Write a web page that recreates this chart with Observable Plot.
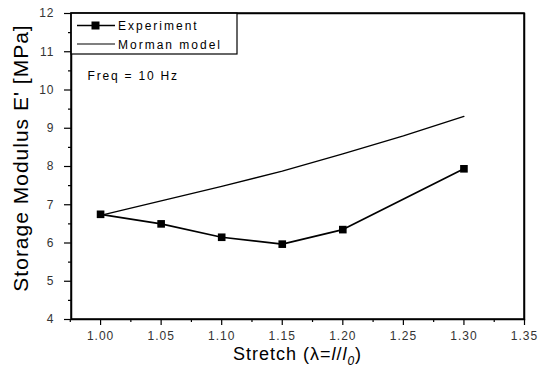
<!DOCTYPE html>
<html>
<head>
<meta charset="utf-8">
<script src="https://cdn.jsdelivr.net/npm/d3@7"></script>
<script src="https://cdn.jsdelivr.net/npm/@observablehq/plot@0.6"></script>
<style>
  html, body { margin: 0; padding: 0; background: #fff; }
  #chart svg { display: block; }
</style>
</head>
<body>
<div id="chart"></div>
<script>
// ---- data ----
const stretch = [1.00, 1.05, 1.10, 1.15, 1.20, 1.30];
const experiment = [6.75, 6.50, 6.15, 5.97, 6.35, 7.94];
const modelStretch = [1.00, 1.05, 1.10, 1.15, 1.20, 1.25, 1.30];
const modelValues = [6.72, 7.10, 7.48, 7.88, 8.33, 8.80, 9.31];
const xMajorTicks = [1.00, 1.05, 1.10, 1.15, 1.20, 1.25, 1.30, 1.35];
const xMinorTicks = [0.975, 1.025, 1.075, 1.125, 1.175, 1.225, 1.275, 1.325];
const yMajorTicks = [4, 5, 6, 7, 8, 9, 10, 11, 12];
const yMinorTicks = [4.5, 5.5, 6.5, 7.5, 8.5, 9.5, 10.5, 11.5];
const seriesNames = ["Experiment", "Morman model"];
const annotation = "Freq = 10 Hz";
const yTitle = "Storage Modulus E' [MPa]";

const expData = stretch.map((x, i) => ({x, y: experiment[i]}));
const modelData = modelStretch.map((x, i) => ({x, y: modelValues[i]}));

const W = 540, H = 372;
const mL = 71, mR = 16, mT = 13, mB = 53;
const FONT = "'Liberation Sans', Arial, sans-serif";

const chart = Plot.plot({
  width: W, height: H,
  marginLeft: mL, marginRight: mR, marginTop: mT, marginBottom: mB,
  style: {fontFamily: FONT, fontSize: "12px", color: "#000", background: "#fff", overflow: "visible"},
  x: {domain: [0.976, 1.35], label: null},
  y: {domain: [4, 12], label: null},
  marks: [
    Plot.axisX(xMinorTicks, {tickSize: 3, text: null, label: null, strokeWidth: 1.2}),
    Plot.axisX(xMajorTicks, {tickSize: 6, tickPadding: 6, tickFormat: d => d.toFixed(2), label: null, fill: "#333", strokeWidth: 1.2}),
    Plot.axisY(yMinorTicks, {tickSize: 3, text: null, label: null, strokeWidth: 1.2}),
    Plot.axisY(yMajorTicks, {tickSize: 7, tickPadding: 10, tickFormat: d => String(d), label: null, fill: "#333", strokeWidth: 1.2}),
    Plot.frame({stroke: "#000", strokeWidth: 1.5}),
    Plot.line(modelData, {x: "x", y: "y", stroke: "#000", strokeWidth: 1.3}),
    Plot.line(expData, {x: "x", y: "y", stroke: "#000", strokeWidth: 1.7}),
    Plot.dot(expData, {x: "x", y: "y", symbol: "square", r: 4.3, fill: "#000", stroke: null}),
    Plot.text([annotation], {frameAnchor: "top-left", dx: 16, dy: 66, textAnchor: "start", lineAnchor: "bottom", fontSize: 12, fill: "#000"})
  ]
});
document.getElementById("chart").appendChild(chart);

const svg = d3.select(chart);
svg.selectAll("[aria-label^='x-axis tick label'] text, [aria-label^='y-axis tick label'] text").style("letter-spacing", "1px");
svg.selectAll("[aria-label='text'] text").style("letter-spacing", "1.8px");

// Legend
const lg = svg.append("g").attr("font-family", FONT).attr("text-anchor", "start");
lg.append("rect").attr("x", mL).attr("y", mT).attr("width", 237 - mL).attr("height", 54 - mT)
  .attr("fill", "#fff").attr("stroke", "#000").attr("stroke-width", 1.2);
lg.append("line").attr("x1", 77).attr("x2", 115).attr("y1", 25.5).attr("y2", 25.5).attr("stroke", "#000").attr("stroke-width", 1.7);
lg.append("rect").attr("x", 91.5).attr("y", 21.5).attr("width", 8).attr("height", 8).attr("fill", "#000");
lg.append("text").attr("x", 118).attr("y", 30).attr("font-size", 12).style("letter-spacing", "2px").text(seriesNames[0]);
lg.append("line").attr("x1", 77).attr("x2", 115).attr("y1", 44).attr("y2", 44).attr("stroke", "#000").attr("stroke-width", 1.2);
lg.append("text").attr("x", 118).attr("y", 48.5).attr("font-size", 12).style("letter-spacing", "2px").text(seriesNames[1]);

// Re-draw frame on top of legend box
svg.append("rect").attr("x", mL).attr("y", mT).attr("width", W - mL - mR).attr("height", H - mT - mB)
  .attr("fill", "none").attr("stroke", "#000").attr("stroke-width", 1.5);

// Y title
svg.append("text")
  .attr("transform", `translate(28,158) rotate(-90)`)
  .attr("text-anchor", "middle")
  .attr("font-family", FONT)
  .attr("font-size", 21)
  .style("letter-spacing", "1px")
  .text(yTitle);

// X title with italic l and subscript 0
const xt = svg.append("text")
  .attr("x", (mL + W - mR) / 2)
  .attr("y", 359.5)
  .attr("text-anchor", "middle")
  .attr("font-family", FONT)
  .attr("font-size", 18)
  .style("letter-spacing", "1px");
xt.append("tspan").text("Stretch (\u03BB=");
xt.append("tspan").attr("font-style", "italic").text("l");
xt.append("tspan").text("/");
xt.append("tspan").attr("font-style", "italic").text("l");
xt.append("tspan").attr("font-style", "italic").attr("font-size", 12).attr("dy", 5).text("0");
xt.append("tspan").attr("dy", -5).text(")");
</script>
</body>
</html>
